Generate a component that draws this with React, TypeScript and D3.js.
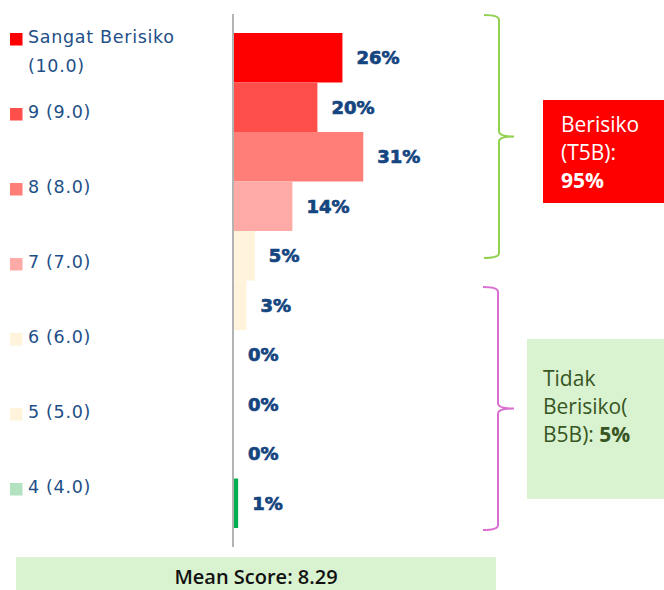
import React from "react";
import * as d3 from "d3";

// ---- data ----
const categories = ["10", "9", "8", "7", "6", "5", "4", "3", "2", "1"];
const values = [26, 20, 31, 14, 5, 3, 0, 0, 0, 1];
const barColors = ["#FF0000", "#FF4F4B", "#FF7F78", "#FFAAA6", "#FFF3DC", "#FFF3DC", "#B3E2C1", "#7FD19A", "#3FBF6F", "#00B050"];

const legendLabels = ["Sangat Berisiko\n(10.0)", "9 (9.0)", "8 (8.0)", "7 (7.0)", "6 (6.0)", "5 (5.0)", "4 (4.0)"];
const legendColors = ["#FF0000", "#FF4F4B", "#FF7F78", "#FFAAA6", "#FFF3DC", "#FFF3DC", "#B3E2C1"];

const t5bLines = ["Berisiko", "(T5B):"];
const t5bValue = "95%";
const b5bLines = ["Tidak", "Berisiko("];
const b5bLast = "B5B): ";
const b5bValue = "5%";
const meanScoreText = "Mean Score: 8.29";

const W = 664;
const H = 590;

function bracePath(x: number, y0: number, y1: number, tipX: number, hook: number) {
  const mid = (y0 + y1) / 2;
  return `M${x - hook},${y0} Q${x},${y0} ${x},${y0 + 5} L${x},${mid - 5} Q${x},${mid} ${tipX},${mid} Q${x},${mid} ${x},${mid + 5} L${x},${y1 - 5} Q${x},${y1} ${x - hook},${y1}`;
}

export default function App() {
  const y = d3.scaleBand<string>().domain(categories).range([33, 528]).padding(0);
  const x = d3.scaleLinear().domain([0, 100]).range([234, 234 + 417]);
  const legendY = d3.scaleLinear().domain([0, legendLabels.length - 1]).range([43, 493]);

  const labelBlue = "#15457F";
  const legendBlue = "#1E4F88";

  return (
    <svg width={W} height={H} style={{ position: "absolute", left: 0, top: 0, background: "#fff" }}>
      {/* legend */}
      {legendLabels.map((lab, i) => {
        const by = legendY(i);
        const lines = lab.split("\n");
        return (
          <g key={lab}>
            <rect x={10} y={by - 10} width={12.5} height={12.5} fill={legendColors[i]} />
            <text x={28} y={by} fontFamily="DejaVu Sans" fontSize={17.5} letterSpacing={0.7} fill={legendBlue}>
              {lines.map((ln, j) => (
                <tspan key={j} x={28} dy={j === 0 ? 0 : 29}>{ln}</tspan>
              ))}
            </text>
          </g>
        );
      })}

      {/* bars */}
      {categories.map((c, i) => (
        <rect key={c} x={x(0)} y={y(c)!} width={x(values[i]) - x(0)} height={y.bandwidth()} fill={barColors[i]} />
      ))}

      {/* axis line */}
      <line x1={233} x2={233} y1={14} y2={547} stroke="#9a9a9a" strokeWidth={1.5} />

      {/* value labels */}
      {categories.map((c, i) => (
        <text
          key={"l" + c}
          x={x(values[i]) + 14}
          y={y(c)! + y.bandwidth() / 2}
          dy="0.36em"
          fontFamily="DejaVu Sans"
          fontWeight="bold"
          fontSize={18}
          fill={labelBlue}
          stroke={labelBlue}
          strokeWidth={0.7}
        >
          {values[i]}%
        </text>
      ))}

      {/* braces */}
      <path d={bracePath(499, 15, 258, 514, 15)} fill="none" stroke="#92D050" strokeWidth={2} />
      <path d={bracePath(498, 287, 530, 514, 15)} fill="none" stroke="#DA6FD3" strokeWidth={2} />

      {/* T5B box */}
      <rect x={543} y={100} width={W - 543} height={103} fill="#FF0000" />
      <text fontFamily="Open Sans" fontSize={21} fill="#fff">
        {t5bLines.map((ln, j) => (
          <tspan key={j} x={561} y={132 + j * 28}>{ln}</tspan>
        ))}
        <tspan x={561} y={188} fontWeight="bold">{t5bValue}</tspan>
      </text>

      {/* B5B box */}
      <rect x={527} y={339} width={W - 527} height={160} fill="#D9F2D0" />
      <text fontFamily="Open Sans" fontSize={21} fill="#375623">
        {b5bLines.map((ln, j) => (
          <tspan key={j} x={543} y={386 + j * 28}>{ln}</tspan>
        ))}
        <tspan x={543} y={442}>{b5bLast}</tspan>
        <tspan fontWeight="bold">{b5bValue}</tspan>
      </text>

      {/* mean score */}
      <rect x={16} y={557} width={480} height={33} fill="#D9F2D0" />
      <text x={256} y={584} textAnchor="middle" fontFamily="Open Sans" fontWeight={600} fontSize={20} fill="#111">
        {meanScoreText}
      </text>
    </svg>
  );
}
